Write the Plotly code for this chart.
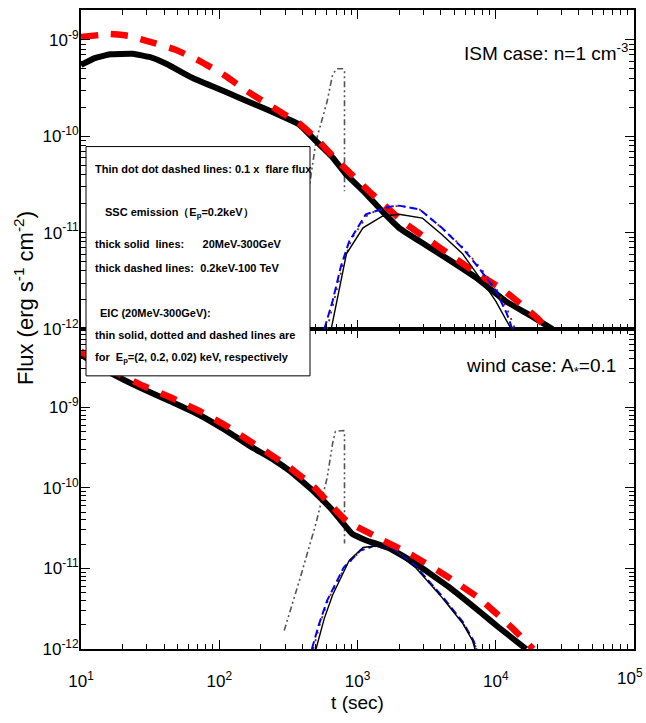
import plotly.graph_objects as go

# ---------------- data (log10 values) ----------------
# ISM case (top panel)
ism_ssc_solid_logt = [1.0, 1.10, 1.21, 1.375, 1.50, 1.62, 1.80, 1.98, 2.16, 2.34, 2.58, 2.70, 2.82, 2.92, 3.05, 3.18, 3.30, 3.45, 3.66, 3.86, 4.07, 4.25, 4.41]
ism_ssc_solid_logf = [-9.26, -9.19, -9.15, -9.145, -9.18, -9.25, -9.39, -9.50, -9.61, -9.72, -9.88, -10.05, -10.22, -10.40, -10.58, -10.78, -10.95, -11.09, -11.28, -11.47, -11.71, -11.86, -12.0]

ism_ssc_dash_logt = [1.0, 1.21, 1.35, 1.50, 1.68, 1.86, 2.04, 2.22, 2.40, 2.58, 2.70, 2.83, 3.09, 3.34, 3.59, 3.84, 4.06, 4.31, 4.37]
ism_ssc_dash_logf = [-8.97, -8.94, -8.96, -9.02, -9.10, -9.22, -9.37, -9.55, -9.71, -9.87, -10.02, -10.22, -10.58, -10.90, -11.15, -11.40, -11.60, -11.90, -12.0]

ism_flare_logt = [2.50, 2.60, 2.65, 2.70, 2.78, 2.82, 2.85, 2.90, 2.906, 2.906]
ism_flare_logf = [-11.8, -11.0, -10.54, -10.05, -9.64, -9.36, -9.30, -9.30, -9.33, -10.57]

ism_eic_2kev_logt = [2.81, 2.84, 2.87, 2.92, 3.04, 3.18, 3.30, 3.47, 3.61, 3.76, 3.90, 4.00, 4.10, 4.11]
ism_eic_2kev_logf = [-12.0, -11.78, -11.60, -11.22, -10.95, -10.83, -10.81, -10.85, -11.02, -11.22, -11.50, -11.71, -11.97, -12.0]

ism_eic_02kev_logt = [2.78, 2.84, 2.90, 2.96, 3.08, 3.30, 3.45, 3.61, 3.76, 3.88, 4.00, 4.09, 4.14]
ism_eic_02kev_logf = [-12.0, -11.65, -11.30, -11.06, -10.80, -10.72, -10.76, -10.95, -11.15, -11.35, -11.57, -11.82, -12.0]

ism_eic_002kev_logt = [2.76, 2.82, 2.88, 2.94, 3.06, 3.23, 3.30, 3.45, 3.61, 3.76, 3.88, 4.00, 4.08, 4.12]
ism_eic_002kev_logf = [-12.0, -11.71, -11.35, -11.09, -10.81, -10.73, -10.72, -10.76, -10.95, -11.16, -11.37, -11.60, -11.84, -12.0]

# wind case (bottom panel)
wind_ssc_solid_logt = [1.0, 1.21, 1.43, 1.65, 1.86, 2.04, 2.22, 2.40, 2.51, 2.68, 2.82, 2.96, 3.06, 3.23, 3.42, 3.66, 3.90, 4.02, 4.22]
wind_ssc_solid_logf = [-8.35, -8.57, -8.76, -8.93, -9.10, -9.28, -9.48, -9.66, -9.79, -10.04, -10.28, -10.57, -10.65, -10.75, -10.94, -11.23, -11.56, -11.73, -12.0]

wind_ssc_dash_logt = [1.0, 1.21, 1.43, 1.65, 1.86, 2.04, 2.22, 2.40, 2.51, 2.68, 2.80, 2.92, 3.16, 3.40, 3.64, 3.88, 4.12, 4.27]
wind_ssc_dash_logf = [-8.31, -8.53, -8.72, -8.88, -9.05, -9.22, -9.42, -9.62, -9.75, -9.98, -10.20, -10.41, -10.63, -10.84, -11.09, -11.37, -11.74, -12.0]

wind_flare_logt = [2.47, 2.58, 2.70, 2.78, 2.82, 2.84, 2.90, 2.906, 2.906]
wind_flare_logf = [-11.77, -11.15, -10.44, -9.88, -9.45, -9.30, -9.29, -9.32, -10.69]

wind_eic_2kev_logt = [2.70, 2.76, 2.82, 2.94, 3.04, 3.14, 3.26, 3.42, 3.61, 3.76, 3.83, 3.85]
wind_eic_2kev_logf = [-12.0, -11.62, -11.33, -10.90, -10.74, -10.72, -10.78, -10.99, -11.36, -11.68, -11.89, -12.0]

wind_eic_02kev_logt = [2.68, 2.73, 2.79, 2.91, 3.03, 3.13, 3.26, 3.42, 3.61, 3.76, 3.84, 3.86]
wind_eic_02kev_logf = [-12.0, -11.68, -11.38, -10.98, -10.77, -10.72, -10.77, -10.98, -11.35, -11.67, -11.90, -12.0]

wind_eic_002kev_logt = [2.67, 2.72, 2.78, 2.90, 3.02, 3.12, 3.26, 3.42, 3.61, 3.76, 3.84, 3.86]
wind_eic_002kev_logf = [-12.0, -11.70, -11.40, -10.99, -10.78, -10.72, -10.77, -10.97, -11.34, -11.66, -11.90, -12.0]

x_tickvals = [1e1, 1e2, 1e3, 1e4, 1e5]
x_ticktext = ["10<sup>1</sup>", "10<sup>2</sup>", "10<sup>3</sup>", "10<sup>4</sup>", "10<sup>5</sup>"]
y_tickvals = [1e-12, 1e-11, 1e-10, 1e-9]
y_ticktext = ["10<sup>-12</sup>", "10<sup>-11</sup>", "10<sup>-10</sup>", "10<sup>-9</sup>"]

legend_lines = [
    "Thin dot dot dashed lines: 0.1 x\u00a0\u00a0flare flux",
    "SSC emission\uff08E<sub>p</sub>=0.2keV\uff09",
    "thick solid\u00a0\u00a0lines:\u00a0\u00a0\u00a0\u00a0\u00a0\u00a020MeV-300GeV",
    "thick dashed lines:\u00a0\u00a00.2keV-100 TeV",
    "EIC (20MeV-300GeV):",
    "thin solid, dotted and dashed lines are",
    "for\u00a0\u00a0E<sub>p</sub>=(2, 0.2, 0.02) keV, respectively",
]

# ---------------- figure ----------------
def pw(v):
    return [10 ** a for a in v]

FONT = "Liberation Sans, Arial, sans-serif"

fig = go.Figure()

def add_panel(xa, ya, flare, e2, e02, e002, solid, dash):
    common = dict(xaxis=xa, yaxis=ya, mode="lines", showlegend=False, hoverinfo="skip")
    fig.add_trace(go.Scatter(x=pw(flare[0]), y=pw(flare[1]),
                             line=dict(color="#555555", width=1.6, dash="6px,3px,2px,3px,2px,3px"), **common))
    fig.add_trace(go.Scatter(x=pw(solid[0]), y=pw(solid[1]),
                             line=dict(color="black", width=6, shape="spline", smoothing=0.3), **common))
    fig.add_trace(go.Scatter(x=pw(dash[0]), y=pw(dash[1]),
                             line=dict(color="#ff0000", width=6.5, dash="17px,13px", shape="spline", smoothing=0.3), **common))
    fig.add_trace(go.Scatter(x=pw(e02[0]), y=pw(e02[1]),
                             line=dict(color="#8b1a1a", width=1.8, dash="2px,6px"), **common))
    fig.add_trace(go.Scatter(x=pw(e002[0]), y=pw(e002[1]),
                             line=dict(color="#0000ff", width=2, dash="8px,4px"), **common))
    fig.add_trace(go.Scatter(x=pw(e2[0]), y=pw(e2[1]),
                             line=dict(color="black", width=1.4), **common))

add_panel("x2", "y2",
          (ism_flare_logt, ism_flare_logf),
          (ism_eic_2kev_logt, ism_eic_2kev_logf),
          (ism_eic_02kev_logt, ism_eic_02kev_logf),
          (ism_eic_002kev_logt, ism_eic_002kev_logf),
          (ism_ssc_solid_logt, ism_ssc_solid_logf),
          (ism_ssc_dash_logt, ism_ssc_dash_logf))
add_panel("x", "y",
          (wind_flare_logt, wind_flare_logf),
          (wind_eic_2kev_logt, wind_eic_2kev_logf),
          (wind_eic_02kev_logt, wind_eic_02kev_logf),
          (wind_eic_002kev_logt, wind_eic_002kev_logf),
          (wind_ssc_solid_logt, wind_ssc_solid_logf),
          (wind_ssc_dash_logt, wind_ssc_dash_logf))

x_minor = [m * 10 ** e for e in range(1, 5) for m in range(2, 10)]
y_minor = [m * 10.0 ** e for e in range(-12, -8) for m in range(2, 10)]

tickfont = dict(family=FONT, size=17, color="black")
minor_common = dict(ticks="inside", ticklen=5, tickwidth=1, tickcolor="black", showgrid=False)
axis_common = dict(type="log", showline=True, linecolor="black", linewidth=2, mirror="ticks",
                   ticks="inside", ticklen=9, tickwidth=1.3, tickcolor="black",
                   showgrid=False, zeroline=False, tickfont=tickfont)

split = 321 / 641

# the last x label (10^5) sits on the page edge; it is drawn as an annotation
# kept inside the page so the page never overflows.
x_ticktext_axis = x_ticktext[:-1] + [""]

fig.update_layout(
    width=646, height=723,
    margin=dict(l=81, r=12, t=8, b=74),
    paper_bgcolor="white", plot_bgcolor="white",
    xaxis=dict(axis_common, range=[1, 5], domain=[0, 1], anchor="y",
               tickvals=x_tickvals, ticktext=x_ticktext_axis, ticklabelstandoff=16,
               minor=dict(minor_common, tickvals=x_minor),
               title=dict(text="t (sec)", font=dict(family=FONT, size=19, color="black"), standoff=5)),
    yaxis=dict(axis_common, range=[-12, -8.03], domain=[0, split], anchor="x",
               tickvals=y_tickvals, ticktext=y_ticktext, ticklabelstandoff=-3,
               minor=dict(minor_common, tickvals=y_minor)),
    xaxis2=dict(axis_common, range=[1, 5], domain=[0, 1], anchor="y2", matches="x",
                tickvals=x_tickvals, showticklabels=False,
                minor=dict(minor_common, tickvals=x_minor)),
    yaxis2=dict(axis_common, range=[-12, -8.69], domain=[split, 1], anchor="x2",
                tickvals=y_tickvals, ticktext=y_ticktext, ticklabelstandoff=-3,
                minor=dict(minor_common, tickvals=y_minor)),
)

def px_x(p):
    return (p - 81) / 553.0

def px_y(p):
    return (649 - p) / 641.0

fig.add_annotation(text=x_ticktext[-1], xref="paper", yref="paper",
                   x=px_x(645), y=px_y(677), xanchor="right", yanchor="middle",
                   showarrow=False, font=tickfont)

# legend/info box
fig.add_shape(type="rect", xref="paper", yref="paper",
              x0=px_x(86), x1=px_x(310), y0=px_y(375), y1=px_y(145),
              line=dict(color="black", width=1), fillcolor="white", layer="above")

line_pos = [(93, 167), (103, 212), (93, 243), (93, 267), (98, 312), (93, 334), (93, 357)]
for txt, (lx, ly) in zip(legend_lines, line_pos):
    fig.add_annotation(text="<b>" + txt + "</b>", xref="paper", yref="paper",
                       x=px_x(lx), y=px_y(ly), xanchor="left", yanchor="middle",
                       showarrow=False, font=dict(family=FONT, size=11, color="black"))

# panel labels
fig.add_annotation(text="ISM case: n=1 cm<sup>-3</sup>", xref="paper", yref="paper",
                   x=px_x(630), y=px_y(50), xanchor="right", yanchor="middle",
                   showarrow=False, font=dict(family=FONT, size=19, color="black"))
fig.add_annotation(text="wind case: A<sub>*</sub>=0.1", xref="paper", yref="paper",
                   x=px_x(618), y=px_y(366), xanchor="right", yanchor="middle",
                   showarrow=False, font=dict(family=FONT, size=19, color="black"))

# y-axis title
fig.add_annotation(text="Flux (erg s<sup>-1</sup> cm<sup>-2</sup>)", xref="paper", yref="paper",
                   x=px_x(24), y=px_y(297), xanchor="center", yanchor="middle", textangle=-90,
                   showarrow=False, font=dict(family=FONT, size=22, color="black"))

fig.write_html("out.html", config={"displayModeBar": False},
               post_script="document.body.style.margin='0';document.body.style.overflow='hidden';")
